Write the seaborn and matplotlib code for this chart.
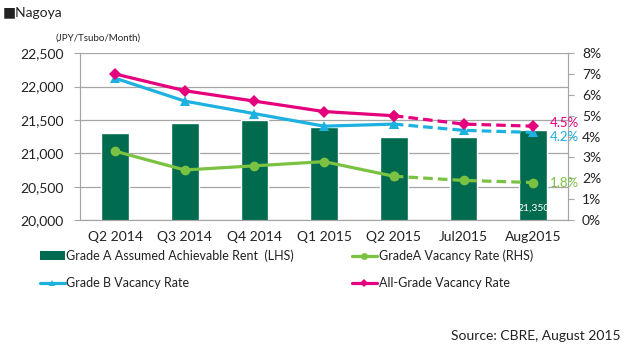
import numpy as np
import pandas as pd
import matplotlib
matplotlib.use('Agg')
import matplotlib.pyplot as plt
import seaborn as sns
from matplotlib.lines import Line2D
from matplotlib.patches import Patch
from matplotlib.ticker import FuncFormatter

categories = ['Q2 2014', 'Q3 2014', 'Q4 2014', 'Q1 2015', 'Q2 2015', 'Jul2015', 'Aug2015']
rent_a = [21300, 21450, 21500, 21400, 21250, 21250, 21350]
vac_a = [3.3, 2.4, 2.6, 2.8, 2.1, 1.9, 1.8]
vac_b = [6.8, 5.7, 5.1, 4.5, 4.6, 4.3, 4.2]
vac_all = [7.0, 6.2, 5.7, 5.2, 5.0, 4.6, 4.5]

GREEN_BAR = '#006b4f'
GREEN = '#7cc242'
CYAN = '#1cb1e1'
MAGENTA = '#e5007e'
GRID = '#a6a6a6'
TXT = '#222222'

sns.set_style('white')
plt.rcParams['font.family'] = ['Lato', 'DejaVu Sans']

df = pd.DataFrame({'period': categories, 'rent': rent_a})

fig = plt.figure(figsize=(6.27, 3.59), dpi=100)
ax = fig.add_axes([0.128, 0.387, 0.778, 0.465])
sns.barplot(data=df, x='period', y='rent', color=GREEN_BAR, width=0.4,
            saturation=1, ax=ax, zorder=2)
ax.set_ylim(20000, 22500)
ax.set_yticks(np.arange(20000, 22501, 500))
ax.yaxis.set_major_formatter(FuncFormatter(lambda v, p: f'{int(v):,}'))
ax.grid(axis='y', color=GRID, lw=0.9, zorder=0)
ax.set_axisbelow(True)
ax.set_xlim(-0.5, len(categories) - 0.5)
ax.set_xlabel('')
ax.set_ylabel('')
ax.set_xticks(range(len(categories)))
ax.set_xticklabels(categories, fontsize=10, color=TXT)
ax.set_xticks(np.arange(-0.5, len(categories), 1), minor=True)
ax.tick_params(axis='x', which='major', length=0, pad=8)
ax.tick_params(axis='x', which='minor', length=5, color=GRID, direction='out')
ax.tick_params(axis='y', length=4, pad=8, color=GRID, labelsize=10, labelcolor=TXT, left=True)
ax.spines['top'].set_visible(False)
for s in ['left', 'bottom', 'right']:
    ax.spines[s].set_color(GRID)

ax.text(6, 20180, f'{rent_a[-1]:,}', color='white', fontsize=7.5, ha='center', va='center')

ax2 = ax.twinx()
x = np.arange(len(categories))
series = [(vac_a, GREEN, 'o', 7), (vac_b, CYAN, '^', 7), (vac_all, MAGENTA, 'D', 6)]
for vals, col, mk, ms in series:
    sns.lineplot(x=x[:5], y=vals[:5], color=col, lw=2.3, marker=mk, markersize=ms,
                 markeredgewidth=0, ax=ax2)
    sns.lineplot(x=x[4:], y=vals[4:], color=col, lw=2.3, linestyle=(0, (3, 1.6)),
                 marker=mk, markersize=ms, markeredgewidth=0, ax=ax2)
ax2.set_ylim(0, 8)
ax2.set_yticks(range(0, 9))
ax2.yaxis.set_major_formatter(FuncFormatter(lambda v, p: f'{int(v)}%'))
ax2.tick_params(axis='y', length=4, pad=6, color=GRID, labelsize=10, labelcolor=TXT, right=True)
ax2.spines['top'].set_visible(False)
for s in ['left', 'bottom', 'right']:
    ax2.spines[s].set_color(GRID)
ax2.set_xlim(-0.5, len(categories) - 0.5)

ax2.text(6.24, vac_all[-1] + 0.15, f'{vac_all[-1]}%', color=MAGENTA, fontsize=9.5, va='center')
ax2.text(6.24, vac_b[-1] - 0.2, f'{vac_b[-1]}%', color=CYAN, fontsize=9.5, va='center')
ax2.text(6.24, vac_a[-1], f'{vac_a[-1]}%', color=GREEN, fontsize=9.5, va='center')

fig.text(0.005, 0.965, '\u25a0Nagoya', fontsize=10, color=TXT, va='center')
fig.text(0.088, 0.893, '(JPY/Tsubo/Month)', fontsize=7, color=TXT, va='center')
fig.text(0.99, 0.063, 'Source: CBRE, August 2015', fontsize=10, color=TXT, ha='right', va='center')

handles = [
    Patch(facecolor=GREEN_BAR, edgecolor='none'),
    Line2D([], [], color=CYAN, lw=2.3, marker='^', markersize=5, markeredgewidth=0),
    Line2D([], [], color=GREEN, lw=2.3, marker='o', markersize=5, markeredgewidth=0),
    Line2D([], [], color=MAGENTA, lw=2.3, marker='D', markersize=4, markeredgewidth=0),
]
labels = ['Grade A Assumed Achievable Rent  (LHS)', 'Grade B Vacancy Rate',
          'GradeA Vacancy Rate (RHS)', 'All-Grade Vacancy Rate']
fig.legend(handles, labels, ncol=2, loc='upper left', bbox_to_anchor=(0.063, 0.305),
           frameon=False, fontsize=9, handlelength=2.0, handletextpad=0.15,
           columnspacing=4.6, labelspacing=1.2, borderaxespad=0, borderpad=0,
           labelcolor=TXT)

fig.savefig('out.png', dpi=100)
